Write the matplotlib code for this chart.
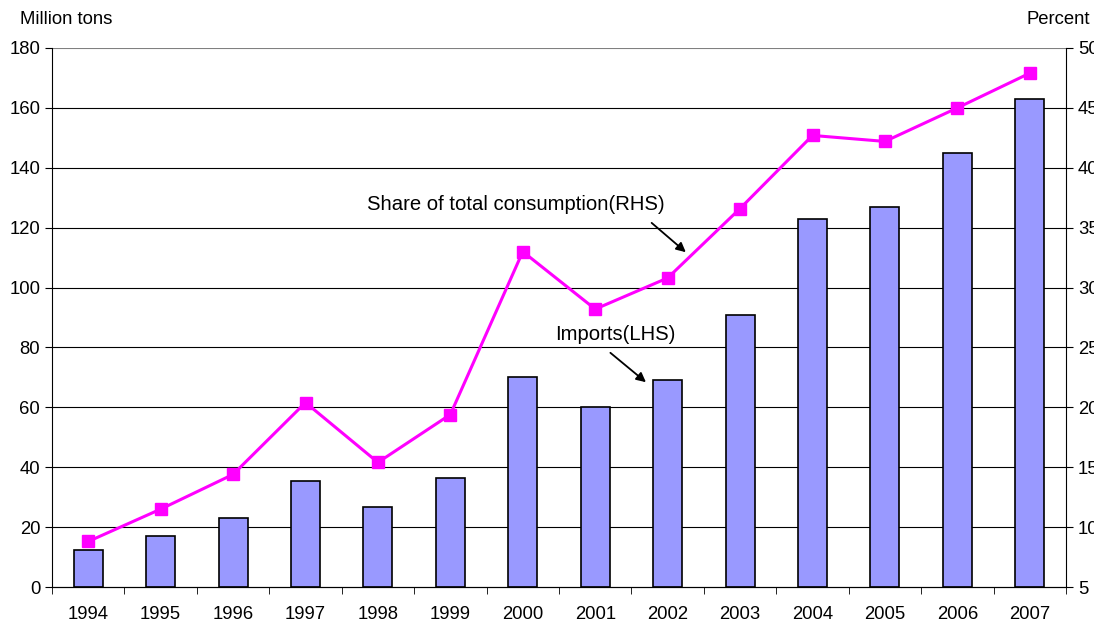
import matplotlib.pyplot as plt
import numpy as np

plt.rcParams['font.family'] = ['Liberation Sans', 'DejaVu Sans']
plt.rcParams['font.size'] = 13.3

years = ['1994', '1995', '1996', '1997', '1998', '1999', '2000',
         '2001', '2002', '2003', '2004', '2005', '2006', '2007']
imports = [12.4, 17.0, 23.0, 35.4, 26.7, 36.4, 70.1,
           60.1, 69.1, 90.8, 122.9, 126.9, 145.0, 163.0]
share = [8.8, 11.5, 14.4, 20.4, 15.4, 19.4, 33.0,
         28.2, 30.8, 36.6, 42.7, 42.2, 45.0, 47.9]

x = np.arange(len(years))

fig = plt.figure(figsize=(10.94, 6.22), dpi=100)
ax = fig.add_axes([52 / 1094, 1 - 587 / 622, (1066 - 52) / 1094, (587 - 48) / 622])

# gridlines and bars (left axis)
for v in range(20, 181, 20):
    ax.axhline(v, color='#000000' if v < 180 else '#808080', lw=0.8, zorder=0)
ax.bar(x, imports, width=0.4, color='#9999FF', edgecolor='black', lw=1.2, zorder=2)
ax.set_xlim(-0.5, len(years) - 0.5)
ax.set_ylim(0, 180)
ax.set_yticks(range(0, 181, 20))
ax.set_xticks(x)
ax.set_xticklabels(years)
ax.set_xticks(np.arange(-0.5, len(years), 1), minor=True)
ax.tick_params(axis='x', which='major', length=0, pad=14)
ax.tick_params(axis='x', which='minor', length=5, direction='out')
ax.tick_params(axis='y', length=5, direction='out')
for s in ['top', 'right']:
    ax.spines[s].set_visible(False)

# share line (right axis)
ax2 = ax.twinx()
ax2.plot(x, share, color='#FF00FF', lw=2.2, marker='s', ms=9, zorder=3)
ax2.set_ylim(5, 50)
ax2.set_yticks(range(5, 51, 5))
ax2.tick_params(axis='y', length=5, direction='out')
ax2.spines['top'].set_visible(False)
ax2.spines['left'].set_visible(False)

# labels
fig.text(20 / 1094, 1 - 20 / 622, 'Million tons', ha='left', va='center')
fig.text(1090 / 1094, 1 - 20 / 622, 'Percent', ha='right', va='center')

ax2.annotate('', xy=(8.28, 32.8), xytext=(7.75, 35.55),
             arrowprops=dict(arrowstyle='-|>', color='black', lw=1.3, mutation_scale=14))
ax2.text(5.9, 36.9, 'Share of total consumption(RHS)', ha='center', va='center', fontsize=14.6)
ax.annotate('', xy=(7.73, 67.8), xytext=(7.18, 78.8),
            arrowprops=dict(arrowstyle='-|>', color='black', lw=1.3, mutation_scale=14))
ax.text(7.28, 84.2, 'Imports(LHS)', ha='center', va='center', fontsize=14.6)

fig.savefig('out.png', dpi=100)
